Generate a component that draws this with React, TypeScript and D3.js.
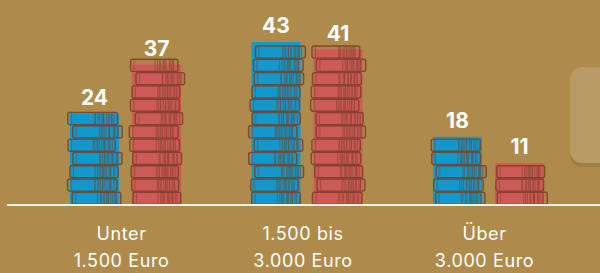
import React from "react";
import * as d3 from "d3";

const categories = ["Unter|1.500 Euro", "1.500 bis|3.000 Euro", "Über|3.000 Euro"];
const seriesKeys = ["blue", "red"];
const blueValues = [24, 43, 18];
const redValues = [37, 41, 11];

const W = 600;
const H = 273;
const BG = "#AE8B4B";
const COLORS: Record<string, string> = { blue: "#1399CC", red: "#CE5A59" };
const COIN_STROKE = "#7A4024";
const baseY = 205;
const coinH = 13.3;
const stripeFracs = [0.55, 0.58, 0.62, 0.65, 0.68, 0.72, 0.74, 0.77, 0.81, 0.84, 0.87, 0.9, 0.93];

function jitter(i: number, j: number) {
  const v = Math.sin(i * 12.9898 + j * 78.233) * 43758.5453;
  return v - Math.floor(v);
}

export default function App() {
  const x0 = d3
    .scaleBand<string>()
    .domain(categories)
    .range([70, 544])
    .paddingInner(0.388)
    .paddingOuter(0);
  const x1 = d3.scaleBand<string>().domain(seriesKeys).range([0, x0.bandwidth()]).paddingInner(0.21);
  const y = d3.scaleLinear().domain([0, 43]).range([baseY, baseY - 163]);

  const bars: { key: string; cat: string; v: number; ci: number; si: number }[] = [];
  categories.forEach((c, ci) => {
    bars.push({ key: "blue", cat: c, v: blueValues[ci], ci, si: 0 });
    bars.push({ key: "red", cat: c, v: redValues[ci], ci, si: 1 });
  });

  return (
    <svg
      width={W}
      height={H}
      style={{ position: "fixed", left: 0, top: 0, display: "block" }}
      fontFamily="Inter, 'Open Sans', sans-serif"
    >
      <rect x={0} y={0} width={W} height={H} fill={BG} />
      {/* side card */}
      <rect x={570} y={71} width={60} height={96} rx={12} fill="#A07F43" />
      <rect x={570} y={67} width={60} height={96} rx={12} fill="#B89A67" />

      {bars.map((b) => {
        const bx = (x0(b.cat) || 0) + (x1(b.key) || 0);
        const bw = x1.bandwidth();
        const top = y(b.v);
        const n = Math.round((baseY - top) / coinH);
        const coins = d3.range(n);
        return (
          <g key={b.key + b.ci}>
            <rect x={bx} y={top} width={bw} height={baseY - top} fill={COLORS[b.key]} />
            {coins.map((k) => {
              const r1 = jitter(b.ci * 2 + b.si + 1, k + 1);
              const r2 = jitter(k + 3, b.ci * 2 + b.si + 7);
              const dx = (r1 - 0.5) * 7;
              const cw = bw - 2 + r2 * 3;
              const cy = baseY - (k + 1) * coinH;
              const cx = bx + dx;
              return (
                <g key={k}>
                  <rect
                    x={cx + 0.5}
                    y={cy + 0.6}
                    width={cw}
                    height={coinH - 1.2}
                    rx={2}
                    fill={COLORS[b.key]}
                    fillOpacity={0.3}
                    stroke={COIN_STROKE}
                    strokeOpacity={0.85}
                    strokeWidth={1.4}
                  />
                  <line
                    x1={cx + 4}
                    x2={cx + 4}
                    y1={cy + 1.5}
                    y2={cy + coinH - 1.5}
                    stroke={COIN_STROKE}
                    strokeOpacity={0.5}
                    strokeWidth={1}
                  />
                  {stripeFracs.map((f, si) => {
                    const off = (jitter(k + si, b.ci + b.si) - 0.5) * 0.04;
                    const sx = cx + cw * (f + off);
                    return (
                      <line
                        key={si}
                        x1={sx}
                        x2={sx}
                        y1={cy + 1.2}
                        y2={cy + coinH - 1.2}
                        stroke={COIN_STROKE}
                        strokeOpacity={0.5}
                        strokeWidth={1}
                      />
                    );
                  })}
                </g>
              );
            })}
            <text
              x={bx + bw / 2}
              y={top - 9}
              textAnchor="middle"
              fill="#FFFFFF"
              fontSize={21}
              fontWeight={700}
            >
              {b.v}
            </text>
          </g>
        );
      })}

      <line x1={7} x2={W} y1={baseY} y2={baseY} stroke="#F7F1E4" strokeWidth={2} />

      {categories.map((c) => {
        const cx = (x0(c) || 0) + x0.bandwidth() / 2 - 4;
        const lines = c.split("|");
        return (
          <text
            key={c}
            x={cx}
            textAnchor="middle"
            fill="#FFFFFF"
            fontSize={18}
            letterSpacing={0.6}
          >
            {lines.map((l, i) => (
              <tspan key={i} x={cx} y={240 + i * 27}>
                {l}
              </tspan>
            ))}
          </text>
        );
      })}
    </svg>
  );
}
